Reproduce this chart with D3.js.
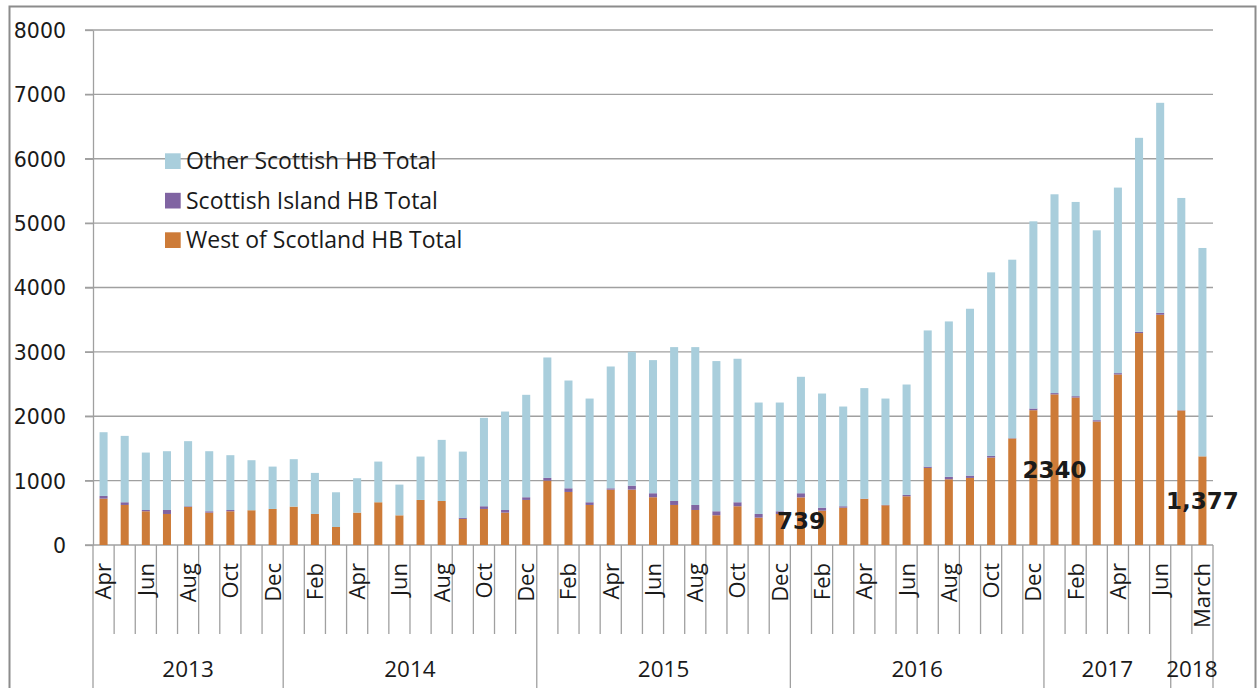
<!DOCTYPE html>
<html><head><meta charset="utf-8">
<script src="https://cdn.jsdelivr.net/npm/d3@7"></script>
<style>
body{margin:0;background:#fff;}
svg text{fill:#1a1a1a;}
</style></head><body>
<svg id="c" width="1258" height="688"></svg>
<script>
// ---- data ----
const months = [
  "Apr","May","Jun","Jul","Aug","Sep","Oct","Nov","Dec",
  "Jan","Feb","Mar","Apr","May","Jun","Jul","Aug","Sep","Oct","Nov","Dec",
  "Jan","Feb","Mar","Apr","May","Jun","Jul","Aug","Sep","Oct","Nov","Dec",
  "Jan","Feb","Mar","Apr","May","Jun","Jul","Aug","Sep","Oct","Nov","Dec",
  "Jan","Feb","Mar","Apr","May","Jun",
  "Feb","March"
];
const yearLabels = ["2013","2014","2015","2016","2017","2018"];
const yearSpans  = [9,12,12,12,6,2];
const westOfScotland = [720,622,524,482,592,503,524,540,560,596,482,280,503,664,461,700,684,405,560,503,700,1000,824,622,860,860,742,622,544,462,602,425,482,739,534,580,715,617,757,1197,1021,1042,1358,1655,2094,2340,2291,1918,2649,3292,3577,2090,1377];
const scottishIsland = [42,42,20,62,10,21,20,0,0,0,0,0,0,0,0,0,0,20,42,41,42,42,57,42,21,62,62,62,78,62,62,57,42,65,46,22,5,5,21,21,37,36,26,5,26,20,21,21,21,21,31,5,0];
const otherScottish  = [990,1031,892,913,1011,933,851,777,658,737,638,539,534,632,477,674,949,1026,1373,1529,1591,1871,1674,1611,1892,2079,2068,2390,2452,2333,2229,1731,1689,1809,1773,1549,1717,1653,1715,2115,2415,2592,2851,2772,2908,3088,3017,2949,2882,3012,3261,3296,3237];
const yTicks = [0,1000,2000,3000,4000,5000,6000,7000,8000];
const seriesNames = ["West of Scotland HB Total","Scottish Island HB Total","Other Scottish HB Total"];
const seriesColors = ["#CD7B38","#8064A2","#A9CEDC"];
const labelIndex = [33,45,52];
const labelText  = ["739","2340","1,377"];

// ---- build ----
const svg = d3.select("#c");
const gridCol = "#a0a0a0";
const rows = months.map((m,i)=>({i, west:westOfScotland[i], island:scottishIsland[i], other:otherScottish[i]}));
const keys = ["west","island","other"];
const stack = d3.stack().keys(keys)(rows);

const x = d3.scaleBand().domain(d3.range(months.length)).range([93,1213]).paddingInner(0.62).paddingOuter(0.31);
const y = d3.scaleLinear().domain([0,8000]).range([545,30]);
const step = x.step();
const x0 = x.range()[0];

// outer border
svg.append("rect").attr("x",9.5).attr("y",6.5).attr("width",1246).attr("height",700)
  .attr("fill","none").attr("stroke","#8c8c8c").attr("stroke-width",2);

// gridlines
svg.append("g").selectAll("line").data(yTicks).join("line")
  .attr("x1",85).attr("x2",1213).attr("y1",d=>y(d)).attr("y2",d=>y(d))
  .attr("stroke",gridCol).attr("stroke-width",1.3);

// y axis
const yAxis = svg.append("g").attr("transform","translate(93,0)")
  .call(d3.axisLeft(y).tickValues(yTicks).tickSize(8).tickSizeOuter(0).tickPadding(19).tickFormat(d=>d));
yAxis.select(".domain").attr("stroke",gridCol).attr("stroke-width",1.3);
yAxis.selectAll(".tick line").attr("stroke",gridCol).attr("stroke-width",1.3);
yAxis.selectAll(".tick text").attr("font-family","'DejaVu Sans',sans-serif").attr("font-size",20.5).attr("fill","#1a1a1a").attr("dy","0.36em");

// bars
const g = svg.append("g");
stack.forEach((s,k)=>{
  g.append("g").attr("fill",seriesColors[k]).selectAll("rect").data(s).join("rect")
    .attr("x",d=>x(d.data.i)).attr("width",x.bandwidth())
    .attr("y",d=>y(d[1])).attr("height",d=>Math.max(0,y(d[0])-y(d[1])));
});

// x axis category boundaries
const yearBounds = [0];
yearSpans.forEach(s=>yearBounds.push(yearBounds[yearBounds.length-1]+s));
const bounds = d3.range(months.length+1);
svg.append("g").selectAll("line").data(bounds).join("line")
  .attr("x1",d=>x0+d*step).attr("x2",d=>x0+d*step)
  .attr("y1",545).attr("y2",d=>yearBounds.includes(d)?700:634)
  .attr("stroke",gridCol).attr("stroke-width",1.3);

// month labels (every other)
svg.append("g").selectAll("text").data(rows.filter(r=>r.i%2===0)).join("text")
  .attr("transform",d=>`translate(${x(d.i)+x.bandwidth()/2},563) rotate(-90)`)
  .attr("text-anchor","end").attr("dy","0.36em")
  .attr("font-family","'Open Sans',sans-serif").attr("font-size",22)
  .text(d=>months[d.i]);

// year labels
svg.append("g").selectAll("text").data(yearLabels).join("text")
  .attr("x",(d,j)=>x0+(yearBounds[j]+yearBounds[j+1])/2*step)
  .attr("y",677).attr("text-anchor","middle")
  .attr("font-family","'Open Sans',sans-serif").attr("font-size",22.5)
  .text(d=>d);

// data labels
svg.append("g").selectAll("text").data(labelIndex).join("text")
  .attr("x",d=>x(d)+x.bandwidth()/2)
  .attr("y",d=>(y(0)+y(westOfScotland[d]))/2)
  .attr("dy","0.36em").attr("text-anchor","middle")
  .attr("font-family","'DejaVu Sans',sans-serif").attr("font-weight","bold").attr("font-size",23)
  .text((d,j)=>labelText[j]);

// legend
const legOrder = [2,1,0];
const leg = svg.append("g");
legOrder.forEach((k,r)=>{
  const by = 169.3 + r*39.5;
  leg.append("rect").attr("x",165).attr("y",by-16).attr("width",15.7).attr("height",15.7).attr("fill",seriesColors[k]);
  leg.append("text").attr("x",186).attr("y",by)
    .attr("font-family","'Open Sans',sans-serif").attr("font-size",23).text(seriesNames[k]);
});
</script>
</body></html>
